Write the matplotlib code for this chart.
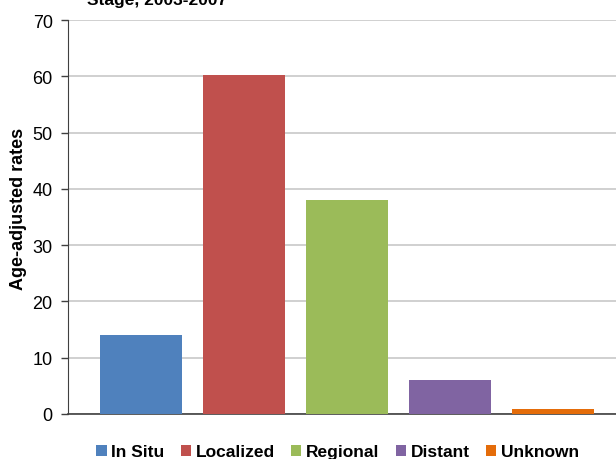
import matplotlib.pyplot as plt
import numpy as np

plt.rcParams['font.family'] = ['Liberation Sans', 'DejaVu Sans']

# age-adjusted rates by stage at diagnosis
stages = ["In Situ", "Localized", "Regional", "Distant", "Unknown"]
rates = [14.1, 60.2, 38.0, 6.1, 0.9]
colors = ["#4F81BD", "#C0504D", "#9BBB59", "#8064A2", "#E46C0A"]

fig = plt.figure(figsize=(6.16, 4.60), dpi=100)
ax = fig.add_axes([68 / 616, 45 / 460, 548 / 616, 394 / 460])

x = np.arange(len(stages))
bars = ax.bar(x, rates, width=0.8, color=colors, label=stages, zorder=3)

ax.set_xlim(-0.71, 4.61)
ax.set_ylim(0, 70)
ax.set_yticks(np.arange(0, 71, 10))
ax.set_xticks([])
ax.yaxis.grid(True, color="#C8C8C8", linewidth=1.2, zorder=0)
ax.tick_params(axis="y", labelsize=13, length=5, width=1, color="#404040", pad=6)

for side in ["top", "right"]:
    ax.spines[side].set_visible(False)
ax.spines["left"].set_color("#404040")
ax.spines["bottom"].set_color("#404040")
ax.spines["bottom"].set_linewidth(1.2)

ax.set_ylabel("Age-adjusted rates", fontsize=13, fontweight="bold")
ax.yaxis.set_label_coords(-0.074, 0.523)

# title sits mostly above the top edge
fig.text(157 / 616, 1.0, "Stage, 2003-2007", ha="center", va="center",
         fontsize=12.5, fontweight="bold")

fig.legend(handles=bars, labels=stages, loc="center", bbox_to_anchor=(0.548, 0.016),
           ncol=5, frameon=False, handlelength=0.6, handleheight=0.6,
           handletextpad=0.25, columnspacing=0.95,
           prop={"size": 12.5, "weight": "bold"})

fig.savefig("out.png", dpi=100)
